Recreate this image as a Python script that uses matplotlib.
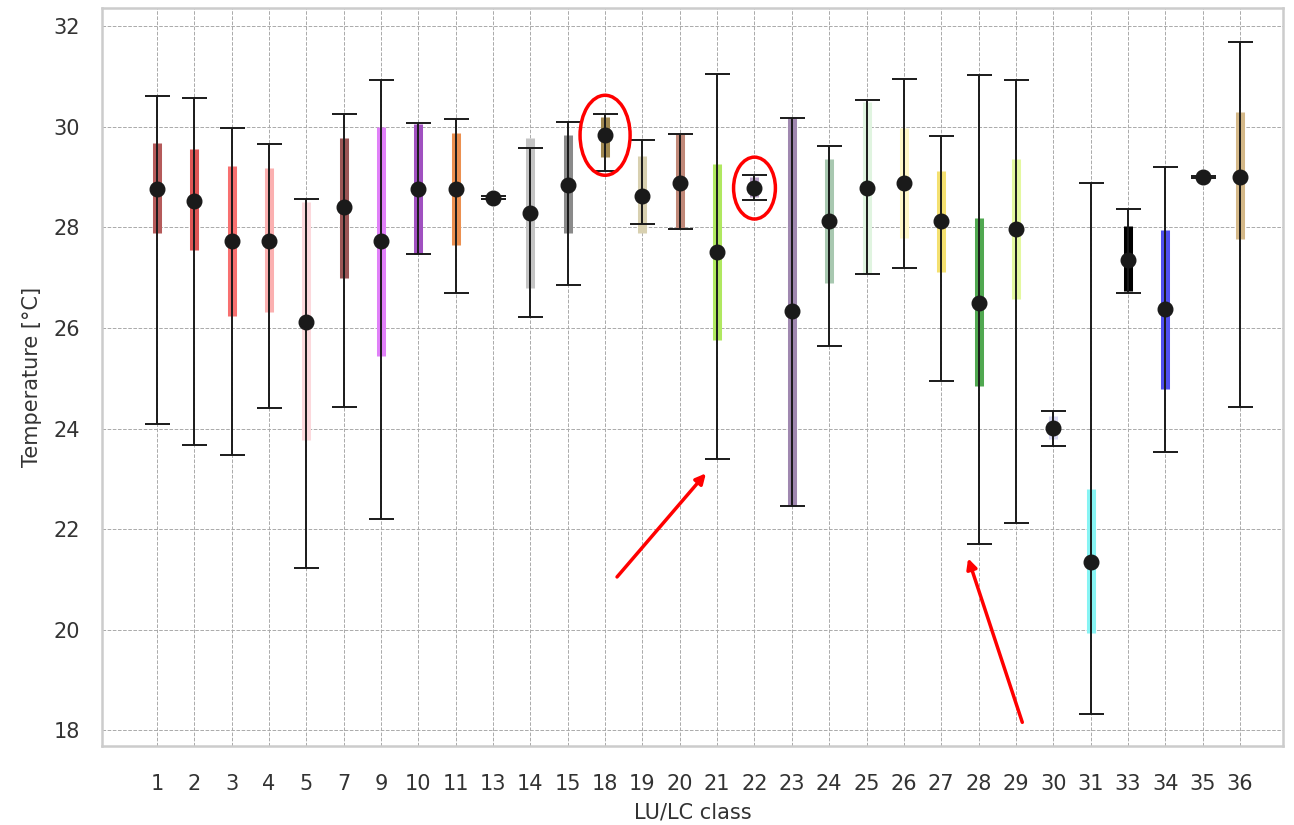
import matplotlib.pyplot as plt
from matplotlib.patches import Ellipse
import seaborn as sns

sns.set_theme(style="whitegrid")
plt.rcParams['font.family'] = ['DejaVu Sans']

# LU/LC classes and temperature statistics per class [°C]
classes = ['1', '2', '3', '4', '5', '7', '9', '10', '11', '13', '14', '15', '18', '19', '20',
           '21', '22', '23', '24', '25', '26', '27', '28', '29', '30', '31', '33', '34', '35', '36']
t_min = [24.09, 23.67, 23.48, 24.40, 21.22, 24.43, 22.20, 27.46, 26.70, 28.56, 26.21, 26.85, 29.12, 28.06, 27.96,
         23.39, 28.54, 22.46, 25.64, 27.07, 27.19, 24.94, 21.70, 22.13, 23.66, 18.32, 26.70, 23.54, 28.99, 24.43]
t_max = [30.61, 30.57, 29.97, 29.65, 28.57, 30.25, 30.93, 30.07, 30.15, 28.63, 29.58, 30.09, 30.25, 29.74, 29.85,
         31.05, 29.04, 30.18, 29.61, 30.54, 30.95, 29.81, 31.02, 30.92, 24.34, 28.89, 28.37, 29.20, 29.03, 31.68]
q_low = [27.88, 27.55, 26.24, 26.31, 23.77, 27.00, 25.45, 27.46, 27.65, 28.57, 26.79, 27.88, 29.40, 27.88, 27.96,
         25.77, 28.60, 22.46, 26.90, 27.08, 27.78, 27.12, 24.85, 26.57, 23.80, 19.94, 26.73, 24.79, 29.00, 27.76]
q_high = [29.67, 29.55, 29.22, 29.17, 28.51, 29.77, 29.99, 30.05, 29.87, 28.62, 29.77, 29.83, 30.20, 29.42, 29.85,
          29.26, 29.00, 30.18, 29.35, 30.50, 29.98, 29.12, 28.18, 29.35, 24.25, 22.79, 28.02, 27.95, 29.02, 30.30]
t_mid = [28.76, 28.53, 27.73, 27.73, 26.11, 28.41, 27.73, 28.76, 28.76, 28.59, 28.28, 28.85, 29.83, 28.63, 28.88,
         27.51, 28.79, 26.34, 28.12, 28.79, 28.88, 28.12, 26.49, 27.96, 24.01, 21.35, 27.36, 26.37, 29.01, 29.01]
colors = ['#b55a5a', '#e05555', '#f87070', '#fbb0b0', '#fcd8dc', '#9a5555', '#e080f8', '#a050c0', '#ec9050',
          '#999999', '#c4c4c4', '#8a8a8a', '#a08850', '#d8d0b0', '#c08878', '#b0e860', '#b8a0c8', '#a088b0',
          '#a8c8b0', '#e0f4e0', '#fff8c8', '#f4e070', '#50a850', '#e4f8a0', '#d8d8f4', '#88f4f4', '#000000',
          '#5050f0', '#a0a0a0', '#d4b888']

fig = plt.figure(figsize=(12.94, 8.25), dpi=100)
ax = fig.add_axes([0.0788, 0.0958, 0.9127, 0.8945])

x = list(range(len(classes)))
# interquartile bars
ax.vlines(x, q_low, q_high, colors=colors, linewidth=6.5, zorder=2)
# min/max whiskers and centre point
lower = [m - lo for m, lo in zip(t_mid, t_min)]
upper = [hi - m for m, hi in zip(t_mid, t_max)]
ax.errorbar(x, t_mid, yerr=[lower, upper], fmt='o', color='#1a1a1a', ecolor='#1a1a1a',
            elinewidth=1.4, capsize=9, capthick=1.4, markersize=10.5, zorder=3)

# highlights
for cx, cy, w, h in [(12, 29.83, 1.34, 1.59), (16, 28.78, 1.12, 1.23)]:
    ax.add_patch(Ellipse((cx, cy), w, h, fill=False, edgecolor='red', linewidth=2.5, zorder=4))
for (x0, y0), (x1, y1) in [((12.32, 21.05), (14.70, 23.11)), ((23.17, 18.16), (21.72, 21.42))]:
    ax.annotate('', xy=(x1, y1), xytext=(x0, y0),
                arrowprops=dict(arrowstyle='-|>', color='red', lw=2.5, mutation_scale=15,
                                shrinkA=0, shrinkB=0), zorder=4)

ax.set_xticks(x)
ax.set_xticklabels(classes)
ax.set_yticks(range(18, 33, 2))
ax.set_xlim(-1.47, 30.15)
ax.set_ylim(17.69, 32.36)
ax.tick_params(labelsize=15, colors='#333333')
ax.tick_params(axis='x', pad=14)
ax.tick_params(axis='y', pad=10)
ax.set_xlabel('LU/LC class', fontsize=15, color='#333333', labelpad=6)
ax.set_ylabel('Temperature [°C]', fontsize=15, color='#333333', labelpad=8)
ax.grid(True, linestyle='--', color='#aaaaaa', linewidth=0.7)
for s in ax.spines.values():
    s.set_color('#cccccc')
    s.set_linewidth(1.8)

fig.savefig('out.png', dpi=100)
